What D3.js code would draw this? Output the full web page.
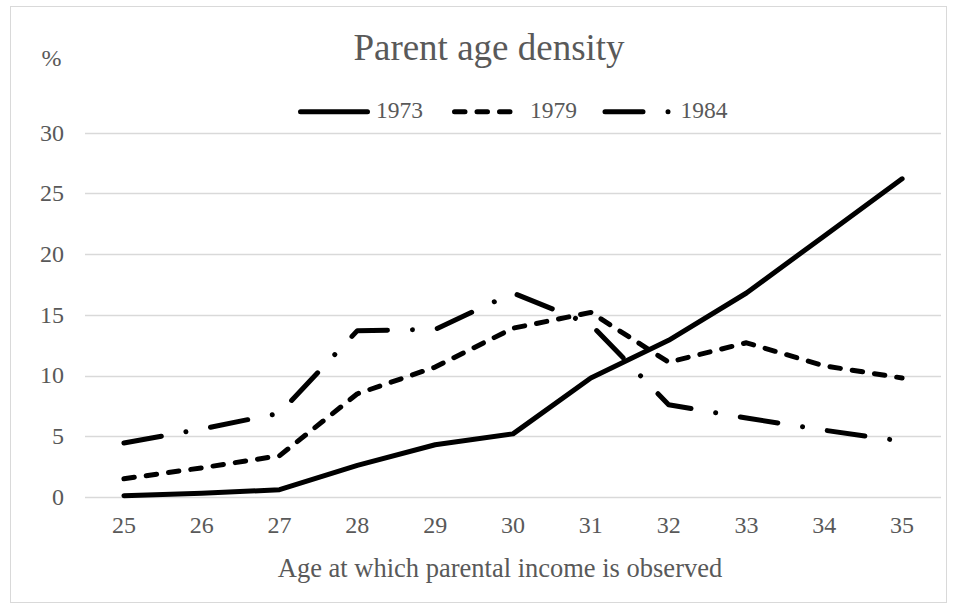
<!DOCTYPE html>
<meta charset="utf-8">
<html>
<head>
<script src="https://d3js.org/d3.v7.min.js"></script>
<style>
  body { margin: 0; background: #fff; }
  text { font-family: "Liberation Serif", "Times New Roman", serif; fill: #595959; }
</style>
</head>
<body>
<script>
// data
var ages = [25, 26, 27, 28, 29, 30, 31, 32, 33, 34, 35];
var y1973 = [0.1, 0.3, 0.6, 2.6, 4.3, 5.2, 9.8, 12.9, 16.8, 21.5, 26.2];
var y1979 = [1.5, 2.4, 3.4, 8.5, 10.7, 13.9, 15.2, 11.1, 12.7, 10.8, 9.8];
var y1984 = [4.45, 5.6, 6.9, 13.7, 13.8, 16.8, 14.2, 7.6, 6.5, 5.5, 4.6];
var seriesNames = ["1973", "1979", "1984"];
var yTicks = [0, 5, 10, 15, 20, 25, 30];

var W = 956, H = 608;
var svg = d3.select("body").append("svg")
    .attr("width", W)
    .attr("height", H);

// chart border
svg.append("rect")
    .attr("x", 10.5).attr("y", 6.5)
    .attr("width", 936).attr("height", 596)
    .attr("fill", "#fff")
    .attr("stroke", "#d9d9d9")
    .attr("stroke-width", 1);

var x = d3.scalePoint().domain(ages).range([85, 941]).padding(0.5);
var y = d3.scaleLinear().domain([0, 30]).range([497, 132.7]);

// gridlines
svg.append("g").selectAll("line")
    .data(yTicks)
    .enter().append("line")
    .attr("x1", 85).attr("x2", 941)
    .attr("y1", function(d){ return Math.round(y(d)) + 0.5; })
    .attr("y2", function(d){ return Math.round(y(d)) + 0.5; })
    .attr("stroke", "#d9d9d9")
    .attr("stroke-width", 1.5);

// y tick labels
svg.append("g").selectAll("text")
    .data(yTicks)
    .enter().append("text")
    .attr("x", 64)
    .attr("y", function(d){ return y(d); })
    .attr("dy", "0.33em")
    .attr("text-anchor", "end")
    .attr("font-size", 24)
    .text(function(d){ return d; });

// x tick labels
svg.append("g").selectAll("text")
    .data(ages)
    .enter().append("text")
    .attr("x", function(d){ return x(d); })
    .attr("y", 533)
    .attr("text-anchor", "middle")
    .attr("font-size", 24)
    .text(function(d){ return d; });

// titles
svg.append("text")
    .attr("x", 489).attr("y", 60)
    .attr("text-anchor", "middle")
    .attr("font-size", 37)
    .text("Parent age density");

svg.append("text")
    .attr("x", 500).attr("y", 577)
    .attr("text-anchor", "middle")
    .attr("font-size", 26.5)
    .text("Age at which parental income is observed");

svg.append("text")
    .attr("x", 41.5).attr("y", 66)
    .attr("font-size", 24)
    .text("%");

// series
var dashes = ["none", "10.5 12", "38 25 0.01 25"];
var allSeries = [y1973, y1979, y1984];

var line = d3.line()
    .x(function(d, i){ return x(ages[i]); })
    .y(function(d){ return y(d); });

allSeries.forEach(function(vals, k) {
    svg.append("path")
        .datum(vals)
        .attr("d", line)
        .attr("fill", "none")
        .attr("stroke", "#000")
        .attr("stroke-width", 5)
        .attr("stroke-linecap", "round")
        .attr("stroke-linejoin", "round")
        .attr("stroke-dasharray", dashes[k]);
});

// legend
var legendX = [300.5, 454.5, 605];
var legend = svg.append("g").selectAll("g")
    .data(seriesNames)
    .enter().append("g");

legend.append("line")
    .attr("x1", function(d, i){ return legendX[i]; })
    .attr("x2", function(d, i){ return legendX[i] + 67; })
    .attr("y1", 111.7).attr("y2", 111.7)
    .attr("stroke", "#000")
    .attr("stroke-width", 5)
    .attr("stroke-linecap", "round")
    .attr("stroke-dasharray", function(d, i){ return dashes[i]; });

legend.append("text")
    .attr("x", function(d, i){ return legendX[i] + 75.5; })
    .attr("y", 118.3)
    .attr("font-size", 23.5)
    .text(function(d){ return d; });
</script>
</body>
</html>
